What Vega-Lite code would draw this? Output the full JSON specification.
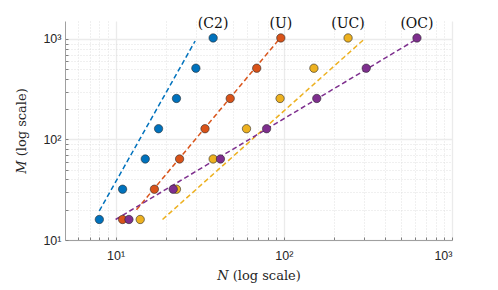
{
  "$schema": "https://vega.github.io/schema/vega-lite/v6.json",
  "autosize": "none",
  "width": 387,
  "height": 219,
  "padding": {"left": 65, "top": 21, "right": 46, "bottom": 50},
  "background": "white",
  "config": {"view": {"stroke": null}},
  "datasets": {
    "pts": [
      {"series": "C2", "N": 8, "M": 16}, {"series": "C2", "N": 11, "M": 32}, {"series": "C2", "N": 15, "M": 64}, {"series": "C2", "N": 18, "M": 128}, {"series": "C2", "N": 23, "M": 256}, {"series": "C2", "N": 30, "M": 512}, {"series": "C2", "N": 38, "M": 1024},
      {"series": "U", "N": 11, "M": 16}, {"series": "U", "N": 17, "M": 32}, {"series": "U", "N": 24, "M": 64}, {"series": "U", "N": 34, "M": 128}, {"series": "U", "N": 48, "M": 256}, {"series": "U", "N": 69, "M": 512}, {"series": "U", "N": 96, "M": 1024},
      {"series": "UC", "N": 14, "M": 16}, {"series": "UC", "N": 23, "M": 32}, {"series": "UC", "N": 38, "M": 64}, {"series": "UC", "N": 60, "M": 128}, {"series": "UC", "N": 95, "M": 256}, {"series": "UC", "N": 151, "M": 512}, {"series": "UC", "N": 241, "M": 1024},
      {"series": "OC", "N": 12, "M": 16}, {"series": "OC", "N": 22, "M": 32}, {"series": "OC", "N": 42, "M": 64}, {"series": "OC", "N": 79, "M": 128}, {"series": "OC", "N": 157, "M": 256}, {"series": "OC", "N": 309, "M": 512}, {"series": "OC", "N": 619, "M": 1024}
    ],
    "fits": [
      {"series": "C2", "N": 8, "M": 19.5}, {"series": "C2", "N": 29.7, "M": 955},
      {"series": "U", "N": 13.3, "M": 20}, {"series": "U", "N": 96, "M": 1040},
      {"series": "UC", "N": 19, "M": 16}, {"series": "UC", "N": 300, "M": 993},
      {"series": "OC", "N": 10, "M": 16}, {"series": "OC", "N": 619, "M": 1000}
    ],
    "labels": [
      {"series": "C2", "N": 38, "M": 1024, "label": "(C2)"},
      {"series": "U", "N": 96, "M": 1024, "label": "(U)"},
      {"series": "UC", "N": 241, "M": 1024, "label": "(UC)"},
      {"series": "OC", "N": 619, "M": 1024, "label": "(OC)"}
    ]
  },
  "encoding": {
    "x": {
      "field": "N", "type": "quantitative",
      "scale": {"type": "log", "domain": [5, 1000], "nice": false},
      "axis": {
        "title": "𝑁 (log scale)",
        "titleFont": "DejaVu Serif", "titleFontWeight": "normal", "titleFontSize": 13, "titleColor": "#262626", "titlePadding": 8,
        "values": [6,7,8,9,10,20,30,40,50,60,70,80,90,100,200,300,400,500,600,700,800,900,1000],
        "labelExpr": "datum.value == 10 ? '10¹' : datum.value == 100 ? '10²' : datum.value == 1000 ? '10³' : ''",
        "labelFont": "Liberation Sans", "labelFontSize": 12.5, "labelColor": "#262626", "labelPadding": 12,
        "domainColor": "#a0a0a0", "domainWidth": 1,
        "tickColor": "#808080", "tickSize": -3,
        "grid": true,
        "gridDash": {"condition": {"test": "datum.value == 10 || datum.value == 100 || datum.value == 1000", "value": []}, "value": [1, 2]},
        "gridColor": {"condition": {"test": "datum.value == 10 || datum.value == 100 || datum.value == 1000", "value": "#ebebeb"}, "value": "#d8d8d8"},
        "gridWidth": {"condition": {"test": "datum.value == 10 || datum.value == 100 || datum.value == 1000", "value": 1.3}, "value": 0.8}
      }
    },
    "y": {
      "field": "M", "type": "quantitative",
      "scale": {"type": "log", "domain": [10, 1510], "nice": false},
      "axis": {
        "title": "𝑀 (log scale)",
        "titleFont": "DejaVu Serif", "titleFontWeight": "normal", "titleFontSize": 13, "titleColor": "#262626", "titlePadding": 14,
        "values": [10,20,30,40,50,60,70,80,90,100,200,300,400,500,600,700,800,900,1000],
        "labelExpr": "datum.value == 10 ? '10¹' : datum.value == 100 ? '10²' : datum.value == 1000 ? '10³' : ''",
        "labelFont": "Liberation Sans", "labelFontSize": 12.5, "labelColor": "#262626", "labelPadding": 7,
        "domainColor": "#a0a0a0", "domainWidth": 1,
        "tickColor": "#808080", "tickSize": -3,
        "grid": true,
        "gridDash": {"condition": {"test": "datum.value == 10 || datum.value == 100 || datum.value == 1000", "value": []}, "value": [1, 2]},
        "gridColor": {"condition": {"test": "datum.value == 10 || datum.value == 100 || datum.value == 1000", "value": "#ebebeb"}, "value": "#d8d8d8"},
        "gridWidth": {"condition": {"test": "datum.value == 10 || datum.value == 100 || datum.value == 1000", "value": 1.3}, "value": 0.8}
      }
    },
    "color": {
      "field": "series", "type": "nominal", "legend": null,
      "scale": {"domain": ["C2", "U", "UC", "OC"], "range": ["#0072BD", "#D95319", "#EDB120", "#7E2F8E"]}
    }
  },
  "layer": [
    {
      "data": {"name": "fits"},
      "mark": {"type": "line", "strokeDash": [5, 3], "strokeWidth": 1.5, "clip": true},
      "encoding": {"detail": {"field": "series"}}
    },
    {
      "data": {"name": "pts"},
      "mark": {"type": "point", "shape": "circle", "filled": true, "size": 70, "stroke": "#2b2b2b", "strokeWidth": 0.6, "opacity": 1}
    },
    {
      "data": {"name": "labels"},
      "mark": {"type": "text", "dy": -14, "font": "DejaVu Serif", "fontSize": 14, "color": "#111111"},
      "encoding": {"text": {"field": "label"}, "color": {"value": "#111111"}}
    }
  ]
}
